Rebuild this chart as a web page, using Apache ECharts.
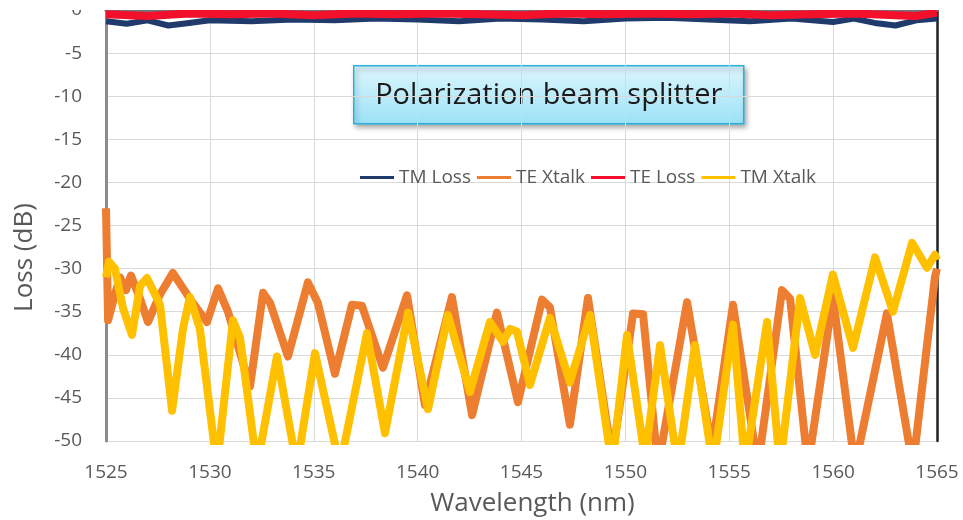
<!DOCTYPE html>
<html>
<head>
<meta charset="utf-8">
<script src="https://cdn.jsdelivr.net/npm/echarts@6/dist/echarts.min.js"></script>
<style>
  html, body { margin: 0; padding: 0; background: #fff; }
  #chart { width: 963px; height: 520px; }
</style>
</head>
<body>
<div id="chart"></div>
<script>
  // values
  var tmLossWl = [1525, 1526, 1527, 1528, 1529, 1530, 1532, 1534, 1536, 1538, 1540, 1542, 1544, 1546, 1548, 1550, 1552, 1554, 1556, 1558, 1560, 1561, 1562, 1563, 1564, 1565];
  var tmLossDb = [-1.3, -1.6, -1.2, -1.8, -1.5, -1.2, -1.3, -1.1, -1.2, -1.0, -1.1, -1.3, -1.0, -1.1, -1.3, -1.0, -0.9, -1.1, -1.3, -1.0, -1.4, -1.0, -1.5, -1.8, -1.2, -1.0];

  var teLossWl = [1525, 1527, 1529, 1531, 1533, 1535, 1537, 1539, 1541, 1543, 1545, 1547, 1549, 1551, 1553, 1555, 1557, 1559, 1561, 1563, 1564, 1565];
  var teLossDb = [-0.5, -0.7, -0.4, -0.5, -0.4, -0.6, -0.4, -0.5, -0.4, -0.5, -0.6, -0.4, -0.5, -0.4, -0.5, -0.4, -0.6, -0.5, -0.4, -0.6, -0.7, -0.3];

  var teXtalkWl = [1525.0, 1525.1, 1525.43, 1525.67, 1525.96, 1526.2, 1526.64, 1527.02, 1527.6, 1528.22, 1529.04, 1529.86, 1530.39, 1530.87, 1531.93, 1532.56, 1532.9, 1533.76, 1534.72, 1535.2, 1536.02, 1536.84, 1537.32, 1538.33, 1539.49, 1540.35, 1541.65, 1542.62, 1543.82, 1544.83, 1545.99, 1546.37, 1547.33, 1548.2, 1549.36, 1550.37, 1550.85, 1551.57, 1552.97, 1554.17, 1555.18, 1556.38, 1557.54, 1557.93, 1558.79, 1559.99, 1561.05, 1562.59, 1563.84, 1564.9, 1565];
  var teXtalkDb = [-23, -36, -33, -31, -32.5, -30.8, -33.5, -36.2, -33, -30.5, -33.5, -36.2, -32.3, -35, -43.7, -32.8, -34, -40.2, -31.6, -34, -42.2, -34.2, -34.3, -41.5, -33.1, -45.8, -33.3, -47, -35.1, -45.5, -33.6, -34.5, -48.1, -33.4, -52, -35.2, -35.3, -53, -33.9, -51, -34.2, -53, -32.5, -33.5, -53, -33.3, -53, -35.2, -53, -31, -30];

  var tmXtalkWl = [1525.0, 1525.14, 1525.43, 1525.82, 1526.25, 1526.64, 1526.97, 1527.36, 1527.6, 1528.18, 1528.71, 1529.04, 1529.52, 1530.34, 1531.11, 1531.45, 1532.27, 1533.23, 1534.19, 1535.06, 1536.26, 1537.56, 1538.43, 1539.54, 1540.5, 1541.46, 1542.52, 1543.48, 1544.11, 1544.45, 1544.78, 1545.41, 1546.37, 1547.33, 1548.3, 1549.36, 1550.08, 1550.94, 1551.67, 1552.53, 1553.35, 1554.22, 1555.18, 1555.76, 1556.82, 1557.44, 1558.41, 1559.13, 1559.99, 1560.96, 1562.02, 1562.88, 1563.8, 1564.52, 1564.9, 1565];
  var tmXtalkDb = [-31, -29.2, -30, -34.6, -37.7, -32, -31.1, -33, -34.2, -46.5, -36.9, -33.3, -37, -53, -36, -38, -53, -40.2, -53, -39.8, -53, -37.5, -49.1, -35.1, -46.3, -35.4, -44.3, -36.2, -38.5, -37, -37.3, -43.5, -35.7, -43.2, -35.4, -53, -37.7, -52, -38.9, -53, -38.9, -53, -36.5, -53, -36.2, -53, -33.4, -40, -30.7, -39.2, -28.7, -35, -27, -29.9, -28.4, -29];

  var seriesNames = ['TM Loss', 'TE Xtalk', 'TE Loss', 'TM Xtalk'];
  var seriesColors = ['#1f3a6b', '#ed7d31', '#f2102a', '#ffc000'];

  function zip(xs, ys) {
    let out = [];
    for (let i = 0; i < xs.length; i++) {
      out.push([xs[i], ys[i]]);
    }
    return out;
  }

  var seriesData = [
    zip(tmLossWl, tmLossDb),
    zip(teXtalkWl, teXtalkDb),
    zip(teLossWl, teLossDb),
    zip(tmXtalkWl, tmXtalkDb)
  ];
  var widths = [6, 8, 8, 8];

  var series = [];
  for (let i = 0; i < seriesNames.length; i++) {
    series.push({
      name: seriesNames[i],
      type: 'line',
      data: seriesData[i],
      showSymbol: false,
      symbol: 'none',
      clip: true,
      lineStyle: { color: seriesColors[i], width: widths[i], join: 'round' },
      itemStyle: { color: seriesColors[i] }
    });
  }

  var font = '"Open Sans", "Noto Sans", sans-serif';
  var myChart = echarts.init(document.getElementById('chart'));
  var option = {
    animation: false,
    backgroundColor: '#fff',
    textStyle: { fontFamily: font },
    grid: { left: 106, right: 26, top: 10, bottom: 79, outerBoundsMode: 'none', containLabel: false },
    legend: {
      left: 355,
      top: 163,
      itemWidth: 34,
      itemHeight: 3,
      itemGap: 6,
      icon: 'rect',
      data: seriesNames,
      textStyle: { color: '#595959', fontSize: 19, fontFamily: font }
    },
    xAxis: {
      type: 'value',
      min: 1525,
      max: 1565,
      interval: 5,
      name: 'Wavelength (nm)',
      nameLocation: 'middle',
      nameGap: 50,
      nameTextStyle: { color: '#595959', fontSize: 26, padding: [0, 0, 0, 22] },
      axisLine: { show: true, lineStyle: { color: '#6f7680', width: 3 } },
      axisTick: { show: false },
      axisLabel: {
        color: '#595959',
        fontSize: 19,
        margin: 22,
        formatter: function (v) { return String(v); }
      },
      splitLine: { show: true, lineStyle: { color: '#d9d9d9', width: 1 } }
    },
    yAxis: [{
      type: 'value',
      min: -50,
      max: 0,
      interval: 5,
      name: 'Loss (dB)',
      nameLocation: 'middle',
      nameRotate: 90,
      nameGap: 68,
      nameTextStyle: { color: '#595959', fontSize: 26, padding: [0, 64, 0, 0] },
      axisLine: { show: true, onZero: false, lineStyle: { color: '#8c8c8c', width: 3 } },
      axisTick: { show: false },
      axisLabel: { color: '#595959', fontSize: 19, margin: 24 },
      splitLine: { show: true, lineStyle: { color: '#d9d9d9', width: 1 } }
    }, {
      type: 'value',
      position: 'right',
      min: -50,
      max: 0,
      interval: 5,
      axisLine: { show: true, onZero: false, lineStyle: { color: '#222', width: 2.5 } },
      axisTick: { show: false },
      axisLabel: { show: false },
      splitLine: { show: false }
    }],
    graphic: [{
      type: 'rect',
      left: 0,
      top: 0,
      z: 100,
      shape: { width: 963, height: 10 },
      style: { fill: '#fff' }
    }, {
      type: 'group',
      left: 353,
      top: 65,
      z: 50,
      children: [{
        type: 'rect',
        shape: { x: 0, y: 0, width: 390, height: 58 },
        style: {
          fill: new echarts.graphic.LinearGradient(0, 0, 0, 1, [
            { offset: 0, color: '#def6fd' },
            { offset: 1, color: '#9be2f7' }
          ]),
          stroke: '#27b3de',
          lineWidth: 1.5,
          shadowBlur: 5,
          shadowColor: 'rgba(0,0,0,0.35)',
          shadowOffsetX: 2,
          shadowOffsetY: 3
        }
      }, {
        type: 'text',
        x: 195,
        y: 30,
        style: {
          text: 'Polarization beam splitter',
          fill: '#1a1a1a',
          font: '29px ' + font,
          align: 'center',
          verticalAlign: 'middle'
        }
      }]
    }],
    series: series
  };
  myChart.setOption(option);
</script>
</body>
</html>
